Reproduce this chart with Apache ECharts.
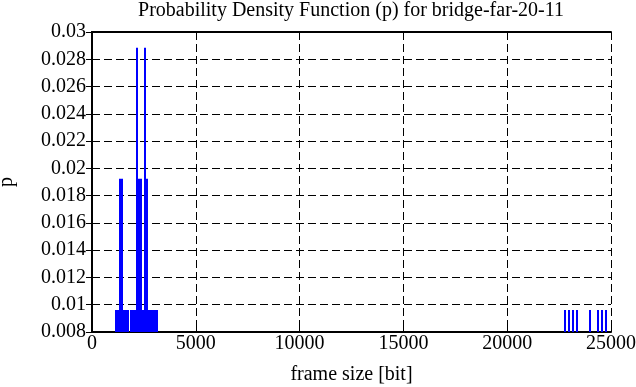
<!DOCTYPE html>
<html>
<head>
<meta charset="utf-8">
<script src="https://cdn.jsdelivr.net/npm/echarts@6/dist/echarts.min.js"></script>
<style>
html,body{margin:0;padding:0;background:#fff;}
#c{width:636px;height:387px;}
</style>
</head>
<body>
<div id="c"></div>
<script>
// frame sizes [bit] and probabilities
var frameSizes = [1160, 1250, 1350, 1450, 1540, 1640, 1730,
  1880, 1980, 2070, 2170, 2260, 2360, 2460, 2550, 2650, 2750, 2840, 2940, 3030, 3130,
  22780, 22980, 23170, 23360, 23990, 24370, 24570, 24760];
var probs = [0.00962, 0.00962, 0.01923, 0.01923, 0.00962, 0.00962, 0.00962,
  0.00962, 0.00962, 0.00962, 0.02885, 0.01923, 0.01923, 0.00962, 0.02885, 0.01923, 0.00962, 0.00962, 0.00962, 0.00962, 0.00962,
  0.00962, 0.00962, 0.00962, 0.00962, 0.00962, 0.00962, 0.00962, 0.00962];
var xTicks = [0, 5000, 10000, 15000, 20000, 25000];
var yTicks = [0.008, 0.01, 0.012, 0.014, 0.016, 0.018, 0.02, 0.022, 0.024, 0.026, 0.028, 0.03];
var titleText = 'Probability Density Function (p) for bridge-far-20-11';

var FONT = 'Liberation Serif';
var FS = 20;
var data = frameSizes.map(function (x, i) { return [x, probs[i]]; });
var yMin = yTicks[0];
var yMax = yTicks[yTicks.length - 1];
var xMin = xTicks[0];
var xMax = xTicks[xTicks.length - 1];

var chart = echarts.init(document.getElementById('c'));
chart.setOption({
  animation: false,
  graphic: [{
    type: 'text',
    x: 351, y: 1,
    style: { text: titleText, font: FS + 'px "' + FONT + '"', fill: '#000', textAlign: 'center', textVerticalAlign: 'top' }
  }],
  grid: { left: 92, right: 25, top: 32, bottom: 55, containLabel: false, outerBoundsMode: 'none' },
  xAxis: [{
    type: 'value', min: xMin, max: xMax, interval: 5000,
    name: 'frame size [bit]', nameLocation: 'middle', nameGap: 33,
    nameTextStyle: { fontFamily: FONT, fontSize: FS, color: '#000' },
    axisLine: { show: true, onZero: false, lineStyle: { color: '#000', width: 2 } },
    axisTick: { show: true, inside: true, length: 6, lineStyle: { color: '#000', width: 1 } },
    axisLabel: { fontFamily: FONT, fontSize: FS, color: '#000', margin: 2,
      formatter: function (v) { return String(v); } },
    splitLine: { show: true, lineStyle: { color: '#000', type: [8, 4], width: 1 } }
  }, {
    type: 'value', position: 'top', min: xMin, max: xMax, interval: 5000,
    axisLine: { show: true, lineStyle: { color: '#000', width: 2 } },
    axisTick: { show: true, inside: true, length: 6, lineStyle: { color: '#000', width: 1 } },
    axisLabel: { show: false }, splitLine: { show: false }
  }],
  yAxis: [{
    type: 'value', min: yMin, max: yMax, interval: 0.002,
    name: 'p', nameLocation: 'middle', nameGap: 75, nameRotate: 90,
    nameTextStyle: { fontFamily: FONT, fontSize: FS, color: '#000' },
    axisLine: { show: true, onZero: false, lineStyle: { color: '#000', width: 2 } },
    axisTick: { show: true, inside: true, length: 6, lineStyle: { color: '#000', width: 1 } },
    axisLabel: {
      fontFamily: FONT, fontSize: FS, color: '#000', margin: 6,
      formatter: function (v) { return String(parseFloat(v.toFixed(3))); }
    },
    splitLine: { show: true, lineStyle: { color: '#000', type: [8, 4], width: 1 } }
  }, {
    type: 'value', position: 'right', min: yMin, max: yMax, interval: 0.002,
    axisLine: { show: true, lineStyle: { color: '#000', width: 2 } },
    axisTick: { show: true, inside: true, length: 6, lineStyle: { color: '#000', width: 1 } },
    axisLabel: { show: false }, splitLine: { show: false }
  }],
  series: [{
    type: 'custom',
    xAxisIndex: 0, yAxisIndex: 0,
    data: data,
    clip: true,
    renderItem: function (params, api) {
      var top = api.coord([api.value(0), api.value(1)]);
      var base = api.coord([api.value(0), yMin]);
      var x0 = Math.round(top[0] - 1);
      return {
        type: 'rect',
        shape: { x: x0, y: top[1], width: 2, height: base[1] - top[1] },
        style: { fill: '#0000ff' }
      };
    }
  }]
});
</script>
</body>
</html>
